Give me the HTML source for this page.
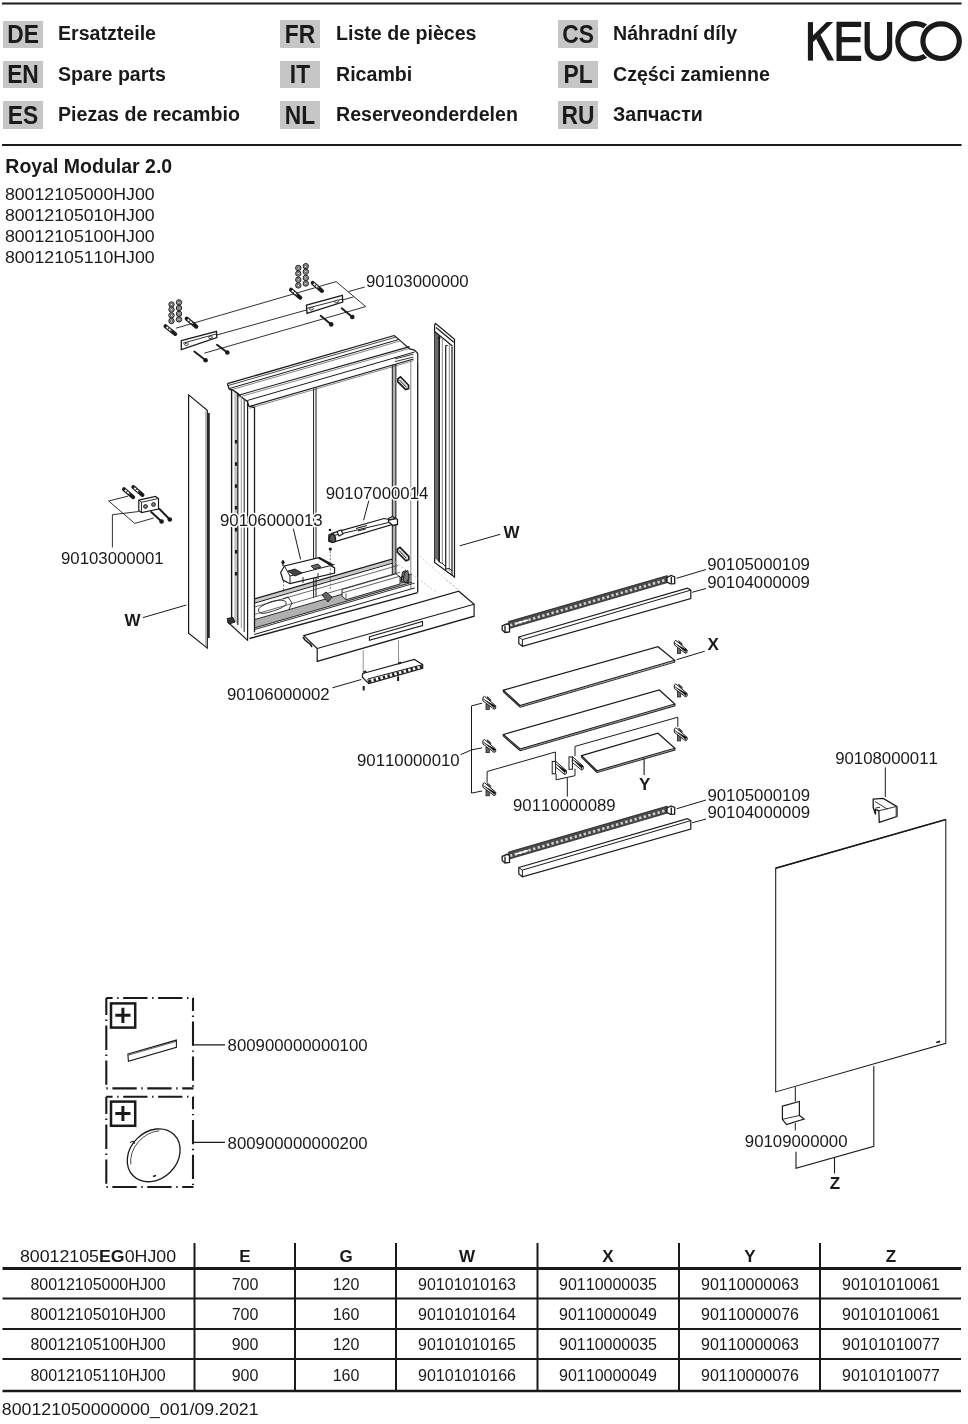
<!DOCTYPE html>
<html><head><meta charset="utf-8">
<style>
html,body{margin:0;padding:0;background:#fff;}
body{width:968px;height:1424px;overflow:hidden;position:relative;}
svg{position:absolute;left:0;top:0;will-change:transform;}
text{font-family:"Liberation Sans",sans-serif;fill:#1a1a1a;font-kerning:none;}
.b{font-weight:bold;}
</style></head><body>
<svg width="968" height="1424" viewBox="0 0 968 1424">
<!-- header -->
<g id="header">
<line x1="2" y1="3.5" x2="961.5" y2="3.5" stroke="#1a1a1a" stroke-width="2"/>
<line x1="2" y1="145" x2="961.5" y2="145" stroke="#1a1a1a" stroke-width="2"/>
<g fill="#c6c6c6">
<rect x="3" y="21" width="40" height="27"/><rect x="3" y="61" width="40" height="27"/><rect x="3" y="101" width="40" height="28"/>
<rect x="280" y="20" width="40" height="28"/><rect x="280" y="61" width="40" height="27"/><rect x="280" y="101" width="40" height="28"/>
<rect x="558" y="20" width="40" height="28"/><rect x="558" y="61" width="40" height="27"/><rect x="558" y="101" width="40" height="28"/>
</g>
<g class="b" font-size="22.8" text-anchor="middle">
<text transform="translate(23 43) scale(1 1.12)">DE</text><text transform="translate(23 83.2) scale(1 1.12)">EN</text><text transform="translate(23 123.6) scale(1 1.12)">ES</text><text transform="translate(300 42.6) scale(1 1.12)">FR</text><text transform="translate(300 83.2) scale(1 1.12)">IT</text><text transform="translate(300 123.6) scale(1 1.12)">NL</text><text transform="translate(578 42.6) scale(1 1.12)">CS</text><text transform="translate(578 83.2) scale(1 1.12)">PL</text><text transform="translate(578 123.6) scale(1 1.12)">RU</text>
</g>
<g class="b" font-size="19.6">
<text x="58" y="40">Ersatzteile</text><text x="58" y="80.5">Spare parts</text><text x="58" y="121">Piezas de recambio</text>
<text x="336" y="40">Liste de pièces</text><text x="336" y="80.5">Ricambi</text><text x="336" y="121">Reserveonderdelen</text>
<text x="613" y="40">Náhradní díly</text><text x="613" y="80.5">Części zamienne</text><text x="613" y="121">Запчасти</text>
</g>
</g>
<!-- title -->
<text class="b" x="5.3" y="172.7" font-size="19.5">Royal Modular 2.0</text>
<g font-size="17">
<text x="4.9" y="199.5" textLength="149.8" lengthAdjust="spacingAndGlyphs">80012105000HJ00</text>
<text x="4.9" y="220.5" textLength="149.8" lengthAdjust="spacingAndGlyphs">80012105010HJ00</text>
<text x="4.9" y="241.5" textLength="149.8" lengthAdjust="spacingAndGlyphs">80012105100HJ00</text>
<text x="4.9" y="262.5" textLength="149.8" lengthAdjust="spacingAndGlyphs">80012105110HJ00</text>
</g>
<!-- table -->
<g id="table" stroke="#1a1a1a" fill="none">
<line x1="2.5" y1="1268.5" x2="961" y2="1268.5" stroke-width="3"/>
<line x1="2.5" y1="1298.5" x2="961" y2="1298.5" stroke-width="2"/>
<line x1="2.5" y1="1329" x2="961" y2="1329" stroke-width="2"/>
<line x1="2.5" y1="1359" x2="961" y2="1359" stroke-width="2"/>
<line x1="2.5" y1="1391" x2="961" y2="1391" stroke-width="2.5"/>
<g stroke-width="2">
<line x1="194.5" y1="1243" x2="194.5" y2="1390"/>
<line x1="295" y1="1243" x2="295" y2="1390"/>
<line x1="396" y1="1243" x2="396" y2="1390"/>
<line x1="537.5" y1="1243" x2="537.5" y2="1390"/>
<line x1="679" y1="1243" x2="679" y2="1390"/>
<line x1="820" y1="1243" x2="820" y2="1390"/>
</g>
</g>
<g font-size="17" text-anchor="middle">
<text x="98" y="1262" textLength="156.2" lengthAdjust="spacingAndGlyphs">80012105<tspan class="b">EG</tspan>0HJ00</text>
<g class="b"><text x="245" y="1262">E</text><text x="346" y="1262">G</text><text x="467" y="1262">W</text><text x="608" y="1262">X</text><text x="750" y="1262">Y</text><text x="891" y="1262">Z</text></g>
</g>
<g font-size="16" text-anchor="middle">
<text x="98" y="1289.7">80012105000HJ00</text><text x="245" y="1289.7">700</text><text x="346" y="1289.7">120</text><text x="467" y="1289.7">90101010163</text><text x="608" y="1289.7">90110000035</text><text x="750" y="1289.7">90110000063</text><text x="891" y="1289.7">90101010061</text>
<text x="98" y="1319.8">80012105010HJ00</text><text x="245" y="1319.8">700</text><text x="346" y="1319.8">160</text><text x="467" y="1319.8">90101010164</text><text x="608" y="1319.8">90110000049</text><text x="750" y="1319.8">90110000076</text><text x="891" y="1319.8">90101010061</text>
<text x="98" y="1349.9">80012105100HJ00</text><text x="245" y="1349.9">900</text><text x="346" y="1349.9">120</text><text x="467" y="1349.9">90101010165</text><text x="608" y="1349.9">90110000035</text><text x="750" y="1349.9">90110000063</text><text x="891" y="1349.9">90101010077</text>
<text x="98" y="1380.5">80012105110HJ00</text><text x="245" y="1380.5">900</text><text x="346" y="1380.5">160</text><text x="467" y="1380.5">90101010166</text><text x="608" y="1380.5">90110000049</text><text x="750" y="1380.5">90110000076</text><text x="891" y="1380.5">90101010077</text>
</g>
<text x="1.8" y="1414.5" font-size="17" textLength="256.8" lengthAdjust="spacingAndGlyphs">800121050000000_001/09.2021</text>
<!-- DRAWING -->
<g id="logo" fill="none" stroke="#1a1a1a" stroke-width="5.2">
<path d="M839.1 22.1V60.6M836.5 24.4H861.2M839.1 39.7H860.4M836.5 58.4H861.2"/>
<path d="M867.2 22.1V47.2A11.2 11.2 0 0 0 889.6 47.2V22.1"/>
<path d="M929 30.0A17.6 17.6 0 1 0 929 52.4"/>
<ellipse cx="941.1" cy="41.2" rx="18.2" ry="17.3" stroke="#fff" stroke-width="8"/>
<ellipse cx="941.1" cy="41.2" rx="18.2" ry="17.3"/>
</g>
<g fill="#1a1a1a">
<rect x="807.9" y="22.1" width="5.1" height="38.5"/>
<polygon points="826.6,22.1 833.2,22.1 812.9,42.2 812.9,35.6"/>
<polygon points="816.0,38.8 820.4,34.6 834.0,60.6 827.6,60.6"/>
</g>

<g id="access" fill="none" stroke="#1a1a1a">
<g stroke-width="2.1" stroke-dasharray="24.3 4.6 1.4 4.6">
<path d="M106.3 998H193.5" stroke-dashoffset="18"/>
<path d="M106.3 1088.4H193.5" stroke-dashoffset="28.8"/>
<path d="M106.3 998V1088.4" stroke-dashoffset="7.3"/>
<path d="M193 998V1088.4" stroke-dashoffset="11.4"/>
<path d="M106.3 1096.7H193.5" stroke-dashoffset="18"/>
<path d="M106.3 1187H193.5" stroke-dashoffset="28.8"/>
<path d="M106.3 1096.7V1187" stroke-dashoffset="7"/>
<path d="M193 1096.7V1187" stroke-dashoffset="11.7"/>
</g>
<rect x="111" y="1003.4" width="24.2" height="24.2" stroke-width="2.5"/>
<rect x="111" y="1101.6" width="24.2" height="24.2" stroke-width="2.5"/>
<path d="M115.3 1015.2H130.5M122.9 1007.8V1022.9M115.3 1113.4H130.5M122.9 1105.9V1121" stroke-width="3"/>
<polygon points="127.9,1054 176.4,1040.1 176.4,1047.3 128.4,1061.3" stroke-width="1.1"/>
<path d="M128.2 1055.2L176.4 1041.3" stroke-width="0.7"/>
<path d="M193 1044.9H225M193 1142.3H225" stroke-width="1.2"/>
<ellipse cx="153.7" cy="1155.3" rx="29" ry="23.6" transform="rotate(-45 153.7 1155.3)" stroke-width="1.3"/>
<path d="M129.5 1163A28 23 -45 0 1 158 1129.5" stroke-width="0.8" transform="translate(1.3 1.3)"/>
<path d="M130 1142.5L133.5 1141L134.5 1144" stroke-width="1"/>
<path d="M153 1176.5L156 1175.5" stroke-width="1.4"/>
</g>

<g id="mirror" fill="none" stroke="#1a1a1a">
<path d="M775.7 1091.9V868.2L945.8 819.6V1043.3Z" stroke-width="1.05"/>
<path d="M775.7 868.2L945.8 819.6" stroke-width="1.6"/>
<path d="M936.3 1042.5L940.2 1041.3" stroke-width="1.8"/>
<!-- top clip 90108000011 -->
<path d="M885.3 767.4V797" stroke-width="1"/>
<path d="M873.2 799.2L883.2 798.4L896.7 806.4V816.5L879.3 822.3L878.8 810.8L875.5 809.5V814.5L873.2 807.5Z" stroke-width="1.3" fill="#fff"/>
<path d="M896.7 806.4V816.5" stroke-width="2.2" stroke="#555"/>
<path d="M875 801.5L887.5 809.2M878.8 810.8L896.7 806.4M875.5 808L880 807.3" stroke-width="0.9"/>
<!-- bottom clip 90109000000 -->
<path d="M795.3 1087V1101.5M795.3 1123V1130.5" stroke-width="1"/>
<path d="M782.4 1106.2L799.4 1101.5V1115.5L804.1 1119.1L786.5 1124.5L782.4 1119.3Z" stroke-width="1.2"/>
<path d="M782.4 1119.3L799.4 1115.5" stroke-width="0.9"/>
<!-- Z bracket -->
<path d="M796 1151.7V1168.2L873.8 1146.3V1066M834.5 1157.6V1173.5" stroke-width="1.1"/>
</g>

<defs>
<g id="clip">
<rect x="3.1" y="7.8" width="3.3" height="5.4" fill="#666" stroke="#222" stroke-width="0.8"/>
<path d="M4.4 0.4L7.8 3.2V5L4.8 2.6Z" fill="#555" stroke="#222" stroke-width="0.7"/>
<path d="M0 1.2L1.6 0.1L12.8 9.6V12.2L11.2 13L0 4.6Z" fill="#fff" stroke="#1a1a1a" stroke-width="1"/>
<path d="M0.3 2.6L11.2 11.4L12.8 9.8M11.2 11.4V13" stroke="#333" stroke-width="0.8"/>
</g>
<g id="clipL">
<rect x="-0.4" y="0.4" width="3.4" height="12.4" fill="#fff" stroke="#1a1a1a" stroke-width="1"/>
<path d="M3 0.2L13.8 9.6V12.6L12 13.4L3 6Z" fill="#fff" stroke="#1a1a1a" stroke-width="1"/>
<path d="M3 2.6L12 11.4L13.8 9.8M12 11.4V13.4" stroke="#333" stroke-width="0.8"/>
</g>
</defs>
<g id="shelves" fill="none" stroke="#1a1a1a">
<!-- shelf X -->
<path d="M503.4 690.2L658 646.7L674.6 660.3L520 705.5Z" stroke-width="1.2"/>
<path d="M520 707.2L674.6 662.2V660.3M503.4 690.2L503.4 691.8L520 707.2" stroke-width="1.1"/>
<path d="M521 706.4L673.8 661.5" stroke="#777" stroke-width="1.4" stroke-dasharray="1 1"/>
<!-- shelf 2 -->
<path d="M503.4 734.5L659.4 690L674.8 704L520 749Z" stroke-width="1.2"/>
<path d="M520 750.7L674.8 705.8V704M503.4 734.5V736.1L520 750.7" stroke-width="1.1"/>
<path d="M521 749.9L674 705.1" stroke="#777" stroke-width="1.4" stroke-dasharray="1 1"/>
<!-- shelf Y -->
<path d="M581.6 755.7L658 733.2L674.8 748.3L597 770.8Z" stroke-width="1.2"/>
<path d="M597 772.5L674.8 750V748.3M581.6 755.7V757.3L597 772.5" stroke-width="1.1"/>
<path d="M598 771.7L674 749.5" stroke="#777" stroke-width="1.4" stroke-dasharray="1 1"/>
<!-- brackets & leaders -->
<path d="M482.2 703.1L471.5 705.9V793.1L482.2 791M471.5 749.9L482.2 747.8M460.6 754.7L471.5 749.9" stroke-width="1"/>
<path d="M487.1 782.6V771.5L555.4 752V761" stroke-width="1"/>
<path d="M575 756.1V746.4L677.8 717.2V726.9" stroke-width="1"/>
<path d="M556.1 774.3V779.8L575 775.7V768.7M567.3 777.7V796.6" stroke-width="1"/>
<path d="M644.1 758.3V775" stroke-width="1.1"/>
<path d="M676.6 659.7L704.8 651.2" stroke-width="1"/>
</g>
<use href="#clip" x="674.3" y="640.3"/>
<use href="#clip" x="674.3" y="683.8"/>
<use href="#clip" x="674.3" y="727.7"/>
<use href="#clip" x="482.9" y="696.2"/>
<use href="#clip" x="482.9" y="739.4"/>
<use href="#clip" x="482.9" y="782.6"/>
<use href="#clipL" x="552.6" y="761"/>
<use href="#clipL" x="569.4" y="756.5"/>

<defs>
<g id="ledset">
<!-- LED strip -->
<polygon points="508.4,621.6 667.3,575.6 667.3,582.6 508.4,628.8" fill="#4a4a4a" stroke="#222" stroke-width="0.8"/>
<path d="M510 625.3L666 579.9" stroke="#d0d0d0" stroke-width="2.6" stroke-dasharray="2.4 2.4"/>
<path d="M516 623.4L528 619.9" stroke="#fff" stroke-width="1.6"/>
<polygon points="502.2,625.8 507,623.8 509.5,625 509.5,632 505,632.5 502.2,630" fill="#fff" stroke="#1a1a1a" stroke-width="1.3"/>
<path d="M505 626V632" stroke="#1a1a1a" stroke-width="1.3"/>
<polygon points="667,577.5 671,575.5 674.7,577 674.7,583.6 670.5,583.8 667,582" fill="#fff" stroke="#1a1a1a" stroke-width="1.3"/>
<path d="M671.3 577V583.6" stroke="#1a1a1a" stroke-width="1.3"/>
<!-- profile -->
<path d="M518.8 637L687.4 588.2L690.8 590.1V598.5L522.4 646.3L518.8 643.5Z" fill="#fff" stroke="#1a1a1a" stroke-width="1.2"/>
<path d="M518.8 637L522.4 639.6L690.8 590.1M522.4 639.6V646.3" fill="none" stroke="#1a1a1a" stroke-width="1"/>
</g>
</defs>
<use href="#ledset"/>
<use href="#ledset" y="230.5"/>
<g fill="none" stroke="#1a1a1a" stroke-width="1">
<path d="M676.6 578.3L706 569.5M692.1 592.3L706 588.5"/>
<path d="M676.6 808.8L706 800M692.1 822.8L706 819"/>
</g>

<g id="cabinet" fill="none" stroke-linecap="butt">
<polygon points="234.3,390.0 237.0,393.0 237.0,624.0 234.3,621.0" fill="#c4c4c4" stroke="none" stroke-width="0"/>
<polygon points="392.3,365.0 395.9,364.0 395.9,576.4 392.3,577.0" fill="#b0b0b0" stroke="none" stroke-width="0"/>
<polygon points="255.0,619.6 412.0,574.1 412.0,582.4 255.0,627.9" fill="#b0b0b0" stroke="none" stroke-width="0"/>
<polygon points="255.0,599.5 392.0,559.8 392.0,562.8 255.0,602.5" fill="#c8c8c8" stroke="none" stroke-width="0"/>
<path d="M227.4 383.7L394.2 335.5" stroke="#1a1a1a" stroke-width="1.3" />
<path d="M227.9 385.6L395.5 337.2" stroke="#1a1a1a" stroke-width="0.8" />
<path d="M229.0 388.6L399.1 339.4" stroke="#1a1a1a" stroke-width="1.0" />
<path d="M229.5 390.3L399.6 341.1" stroke="#555" stroke-width="0.7" />
<path d="M237.4 395.5L409.7 346.6" stroke="#1a1a1a" stroke-width="1.1" />
<path d="M238.0 397.3L410.0 348.3" stroke="#555" stroke-width="0.7" />
<path d="M247.3 400.5L414.6 352.0" stroke="#1a1a1a" stroke-width="1.0" />
<path d="M249.0 406.6L413.5 359.0" stroke="#1a1a1a" stroke-width="1.2" />
<path d="M249.5 408.3L413.5 360.6" stroke="#555" stroke-width="0.7" />
<path d="M394.2 335.5L399.1 339.6L409.7 348.9L414.3 350.1L417.7 353.2V361.6" stroke="#1a1a1a" stroke-width="1.2" fill="none" />
<path d="M227.4 383.6L229.1 389L232.4 389.8L237.4 393.1L240.7 396.4L247.3 401.4L248.9 406.3L254.3 407.3" stroke="#1a1a1a" stroke-width="1.3" fill="none" />
<path d="M395.1 358.8L413.4 354.2M395.1 361.6L413.4 357" stroke="#1a1a1a" stroke-width="0.9" fill="none" />
<path d="M231.6 389V621.5" stroke="#1a1a1a" stroke-width="1.4" fill="none" />
<path d="M237.8 393V625" stroke="#1a1a1a" stroke-width="1.2" fill="none" />
<path d="M241.3 396V628" stroke="#999" stroke-width="1.0" fill="none" />
<path d="M244.2 399V632" stroke="#333" stroke-width="1.1" fill="none" />
<path d="M247.6 401V640.6" stroke="#1a1a1a" stroke-width="1.2" fill="none" />
<path d="M254.5 407V632.3" stroke="#1a1a1a" stroke-width="1.3" fill="none" />
<path d="M236 440V443.5" stroke="#1a1a1a" stroke-width="2.2" fill="none" />
<path d="M236 462.3V465.8" stroke="#1a1a1a" stroke-width="2.2" fill="none" />
<path d="M236 484.3V487.8" stroke="#1a1a1a" stroke-width="2.2" fill="none" />
<path d="M236 506V509.5" stroke="#1a1a1a" stroke-width="2.2" fill="none" />
<path d="M236 528V531.5" stroke="#1a1a1a" stroke-width="2.2" fill="none" />
<path d="M236 550V553.5" stroke="#1a1a1a" stroke-width="2.2" fill="none" />
<path d="M236 572V575.5" stroke="#1a1a1a" stroke-width="2.2" fill="none" />
<path d="M227.2 621.5L247.9 640.6" stroke="#1a1a1a" stroke-width="1.2" fill="none" />
<path d="M227 618.5L233 617.5L235 622L229 624Z" stroke="#1a1a1a" stroke-width="1.0" fill="#333" />
<path d="M313.6 388.8V598" stroke="#1a1a1a" stroke-width="1.0" fill="none" />
<path d="M316 388.1V597" stroke="#1a1a1a" stroke-width="1.0" fill="none" />
<path d="M392.3 365V577M395.9 364V576.4" stroke="#1a1a1a" stroke-width="1.0" fill="none" />
<path d="M410.8 360V589" stroke="#777" stroke-width="0.9" fill="none" />
<path d="M417.7 361.6V592.3" stroke="#1a1a1a" stroke-width="1.3" fill="none" />
<path d="M397.8 378.8L400.5 376.8L408.6 385.2V388.6L405.6 389.6L397.8 381.8Z" stroke="#1a1a1a" stroke-width="1.6" fill="#e0e0e0" />
<path d="M399.6 380.2L406.4 387.2M399 382.5L404.5 388.4" stroke="#1a1a1a" stroke-width="0.9" fill="none" />
<path d="M397.3 549.2L400 547.4L408.8 556.4V559.8L405.9 560.8L397.3 552.2Z" stroke="#1a1a1a" stroke-width="1.6" fill="#e0e0e0" />
<path d="M399.2 550.6L406.4 558.2M398.6 553L404.6 559.6" stroke="#1a1a1a" stroke-width="0.9" fill="none" />
<path d="M401 582L402.5 572L406 570.5L408.8 575V582.6Z" stroke="#1a1a1a" stroke-width="1.0" fill="#777" />
<path d="M254.6 598.9L392.0 559.1" stroke="#1a1a1a" stroke-width="1.1" />
<path d="M254.6 603.1L392.0 563.3" stroke="#1a1a1a" stroke-width="1.0" />
<path d="M254.6 607.0L398.0 565.4" stroke="#444" stroke-width="0.8" />
<path d="M254.6 614.4L400.0 572.2" stroke="#444" stroke-width="0.8" />
<path d="M254.6 619.6L412.0 574.0" stroke="#1a1a1a" stroke-width="0.9" />
<path d="M254.6 627.9L412.0 582.3" stroke="#1a1a1a" stroke-width="0.9" />
<path d="M254.6 629.5L414.7 583.1" stroke="#1a1a1a" stroke-width="0.9" />
<path d="M254.1 634.5L414.7 587.9" stroke="#1a1a1a" stroke-width="1.0" />
<path d="M249.5 638.5L417.7 592.6" stroke="#1a1a1a" stroke-width="1.3" />
<path d="M342 589.5L396 573.8L400 577V584L346 599.7L342 596Z" stroke="#1a1a1a" stroke-width="0.9" fill="#fff" />
<path d="M342 593L400 576.2M346 599.7V593.2" stroke="#1a1a1a" stroke-width="0.7" fill="none" />
<path d="M262 606C270 601 282 598 286 602C288 606 278 610 266 613C258 615 256 609 262 606Z" stroke="#1a1a1a" stroke-width="0.9" fill="none" />
<path d="M283 599L288 597L292 603L289 609" stroke="#1a1a1a" stroke-width="0.9" fill="none" />
<path d="M322 595L326 592L332 597L328 602Z" stroke="#1a1a1a" stroke-width="0.9" fill="#666" />
<path d="M403 580L405 572L408 570.5L409 578L406 583Z" stroke="#1a1a1a" stroke-width="0.9" fill="#777" />
<path d="M280.7 572.5L284.4 566L318.8 557.7L334.6 567.9V573L290 583.7L283 580Z" stroke="#1a1a1a" stroke-width="1.2" fill="#fff" />
<path d="M284.4 566L290 576L334.6 564.5M290 576V583.7" stroke="#1a1a1a" stroke-width="1.0" fill="none" />
<path d="M318.8 557.7L332.7 565.1" stroke="#1a1a1a" stroke-width="2.2" fill="none" />
<path d="M288 571L295 569L302 573L295 576Z" stroke="#1a1a1a" stroke-width="0.9" fill="#444" />
<path d="M311 566L318 564L321 567L314 569Z" stroke="#1a1a1a" stroke-width="0.9" fill="#666" />
<path d="M303 577V583M318 573V579" stroke="#1a1a1a" stroke-width="0.9" fill="none" />
<path d="M283 560V566" stroke="#1a1a1a" stroke-width="1.3" fill="none" />
<circle cx="283" cy="562.3" r="1.6" fill="#1a1a1a"/>
<path d="M283.5 581V592M314.1 577V585M330.4 573V590" stroke="#555" stroke-width="0.8" fill="none" stroke-dasharray="2 1.5"/>
<path d="M293.3 528.6L300.6 559.5" stroke="#1a1a1a" stroke-width="1.0" fill="none" />
<path d="M328.8 535.1L332.4 533.1L384 518.5L396.4 520.7L397 523.2L332.4 542.4L328.8 541.3Z" stroke="#1a1a1a" stroke-width="1.2" fill="#fff" />
<path d="M333.4 535.6L396.4 520.7M333.4 535.6V542.4" stroke="#1a1a1a" stroke-width="1.0" fill="none" />
<path d="M388.5 518.5L392.5 516.5L397.5 519.5V524.5L393 525.5L388.5 522Z" stroke="#1a1a1a" stroke-width="1.3" fill="#fff" />
<path d="M389 520L396 518.5" stroke="#1a1a1a" stroke-width="1.6" fill="none" />
<path d="M330 535.5L333.5 533.8L335.5 537.5V541.5L332 542.5L329 540Z" stroke="#1a1a1a" stroke-width="1.3" fill="#555" />
<path d="M337 531.5L341 530L343 534L339 536Z" stroke="#1a1a1a" stroke-width="1.1" fill="#fff" />
<path d="M356 528.5L367 525.5" stroke="#1a1a1a" stroke-width="1.1" fill="none" />
<path d="M358 531L366 528.8" stroke="#1a1a1a" stroke-width="1.0" fill="none" />
<circle cx="330" cy="530" r="1.3" fill="#1a1a1a"/><circle cx="330.3" cy="549.1" r="1.6" fill="#1a1a1a"/>
<path d="M330.3 551V582" stroke="#555" stroke-width="0.8" fill="none" stroke-dasharray="2 1.5"/>
<path d="M363.6 520.3L368.8 500.7" stroke="#1a1a1a" stroke-width="1.0" fill="none" />
</g>
<g id="cover" fill="none" stroke="#1a1a1a">
<path d="M303.8 635.6L458.8 591.2L474.1 604.2V616.2L317.2 661.4V648.5Z" fill="#fff" stroke-width="1.2"/>
<path d="M317.2 648.5L474.1 604.2" stroke-width="1.1"/>
<path d="M369.4 636.7L422.5 621.4V625.5L369.4 640.3Z" stroke-width="1.1"/>
<path d="M303 637L305 640L310.5 644.4L312 647" stroke-width="1.6"/>
<path d="M363.2 650V673M398.5 640V663" stroke-width="0.7" stroke="#666"/>
<path d="M418 589L458.8 591.2" stroke="#ccc" stroke-width="0.8" stroke-dasharray="3 2" opacity="0"/>
<path d="M446 580L458 590M395 562L436 592" stroke="#bbb" stroke-width="0.8" stroke-dasharray="2 2"/>
</g>
<g id="switch" fill="none" stroke="#1a1a1a">
<path d="M362.8 673.5L414.3 659.5L422.7 664.6V668.3L368.8 683.7L362.3 677.2Z" fill="#fff" stroke-width="1.2"/>
<path d="M367.9 679L422.7 664.6M367.9 679L368.8 683.7" stroke-width="1"/>
<path d="M369 681.5L422 666.5" stroke="#222" stroke-width="3.2" stroke-dasharray="2.4 2.4"/>
<path d="M363.5 672.5L366 671M398.5 663.5L401 662.5" stroke-width="2"/>
<path d="M363.7 686V690.5M398.1 676.5V681" stroke-width="2"/>
<path d="M332.4 687.8L361.3 679.5" stroke-width="1"/>
</g>
<g id="leftpanel" fill="none" stroke="#1a1a1a">
<path d="M188.6 394.9L207.3 410.2V648.1L188.6 633.2Z" fill="#fff" stroke-width="1.2"/>
<path d="M205.8 411V646" stroke="#999" stroke-width="1"/>
<rect x="207.3" y="413" width="2.5" height="225" fill="#2a2a2a" stroke="none"/>
<path d="M143 617.6L186.4 605" stroke-width="1"/>
</g>
<g id="rightpanel" fill="none" stroke="#1a1a1a">
<path d="M435.6 323.5L454.5 339.3V577L434.6 562.5V325Z" fill="#fff" stroke-width="1.2"/>
<polygon points="434.6,331.5 439.2,335.5 439.2,562 434.6,558" fill="#6a6a6a" stroke="none"/>
<path d="M434.6 331.5L452.4 346M436 327.5L453.8 342.3" stroke-width="1.2"/>
<path d="M439.2 336V562" stroke-width="1.6"/>
<path d="M442.3 338V564M449.3 344V571" stroke="#888" stroke-width="1"/>
<path d="M445.7 345.5V569.8M452 346.5V575" stroke-width="1.2"/>
<path d="M437.4 338.2H440.5M445.7 345.5H447.7M439.2 562L442.3 563.5L445.7 566.5M445.7 569L449.3 568.5L452 571" stroke-width="1"/>
<path d="M459.8 545.8L500.2 534.3" stroke-width="1"/>
<path d="M420 556.5L458.6 590" stroke="#bbb" stroke-width="0.8" stroke-dasharray="2 2"/>
</g>

<g id="screws" fill="none">
<path d="M175.9 328.2L336.1 281.6L365.7 306.6L204.3 353.2M216.8 335L353.6 296.9M348.6 291.5L364.8 287" stroke="#1a1a1a" stroke-width="0.9"/>
<circle cx="171.5" cy="304.5" r="2.7" fill="#aaa" stroke="#1a1a1a" stroke-width="1"/><circle cx="171.5" cy="304.5" r="1.1" fill="#fff" stroke="#1a1a1a" stroke-width="0.6"/>
<circle cx="171.5" cy="309.6" r="2.7" fill="#aaa" stroke="#1a1a1a" stroke-width="1"/><circle cx="171.5" cy="309.6" r="1.1" fill="#fff" stroke="#1a1a1a" stroke-width="0.6"/>
<circle cx="171.5" cy="315.3" r="2.7" fill="#aaa" stroke="#1a1a1a" stroke-width="1"/><circle cx="171.5" cy="315.3" r="1.1" fill="#fff" stroke="#1a1a1a" stroke-width="0.6"/>
<circle cx="171.5" cy="321" r="2.7" fill="#aaa" stroke="#1a1a1a" stroke-width="1"/><circle cx="171.5" cy="321" r="1.1" fill="#fff" stroke="#1a1a1a" stroke-width="0.6"/>
<circle cx="179" cy="302.4" r="2.7" fill="#aaa" stroke="#1a1a1a" stroke-width="1"/><circle cx="179" cy="302.4" r="1.1" fill="#fff" stroke="#1a1a1a" stroke-width="0.6"/>
<circle cx="179" cy="308" r="2.7" fill="#aaa" stroke="#1a1a1a" stroke-width="1"/><circle cx="179" cy="308" r="1.1" fill="#fff" stroke="#1a1a1a" stroke-width="0.6"/>
<circle cx="179" cy="313.8" r="2.7" fill="#aaa" stroke="#1a1a1a" stroke-width="1"/><circle cx="179" cy="313.8" r="1.1" fill="#fff" stroke="#1a1a1a" stroke-width="0.6"/>
<circle cx="179" cy="319.4" r="2.7" fill="#aaa" stroke="#1a1a1a" stroke-width="1"/><circle cx="179" cy="319.4" r="1.1" fill="#fff" stroke="#1a1a1a" stroke-width="0.6"/>
<path d="M165.5 326.2L175.2 334" stroke="#1a1a1a" stroke-width="4" stroke-linecap="round"/>
<path d="M166.5 327.0L171.5 331.0" stroke="#fff" stroke-width="1.7" stroke-dasharray="2.2 0.8"/>
<path d="M186.7 318.6L196.3 326.6" stroke="#1a1a1a" stroke-width="4" stroke-linecap="round"/>
<path d="M187.7 319.4L192.7 323.6" stroke="#fff" stroke-width="1.7" stroke-dasharray="2.2 0.8"/>
<polygon points="181.3,340.6 216.5,331.3 216.8,337.5 181.3,349.7" fill="#fff" stroke="#1a1a1a" stroke-width="1.3"/>
<path d="M182.9 343.2L216.5 333.9" stroke="#1a1a1a" stroke-width="0.9"/>
<ellipse cx="186.5" cy="344.3" rx="2" ry="1.2" transform="rotate(-16 186.5 344.3)" fill="#fff" stroke="#1a1a1a" stroke-width="0.8"/>
<ellipse cx="210.5" cy="337.3" rx="2" ry="1.2" transform="rotate(-16 210.5 337.3)" fill="#fff" stroke="#1a1a1a" stroke-width="0.8"/>
<path d="M194.3 351.5L205.6 360.2" stroke="#1a1a1a" stroke-width="1.9" stroke-linecap="round"/>
<circle cx="205.6" cy="360.2" r="2.3" fill="#1a1a1a"/>
<path d="M217 344.8L227.3 352.5" stroke="#1a1a1a" stroke-width="1.9" stroke-linecap="round"/>
<circle cx="227.3" cy="352.5" r="2.3" fill="#1a1a1a"/>
<circle cx="298.3" cy="268" r="2.7" fill="#aaa" stroke="#1a1a1a" stroke-width="1"/><circle cx="298.3" cy="268" r="1.1" fill="#fff" stroke="#1a1a1a" stroke-width="0.6"/>
<circle cx="298.3" cy="273.6" r="2.7" fill="#aaa" stroke="#1a1a1a" stroke-width="1"/><circle cx="298.3" cy="273.6" r="1.1" fill="#fff" stroke="#1a1a1a" stroke-width="0.6"/>
<circle cx="298.3" cy="279.8" r="2.7" fill="#aaa" stroke="#1a1a1a" stroke-width="1"/><circle cx="298.3" cy="279.8" r="1.1" fill="#fff" stroke="#1a1a1a" stroke-width="0.6"/>
<circle cx="298.3" cy="285.4" r="2.7" fill="#aaa" stroke="#1a1a1a" stroke-width="1"/><circle cx="298.3" cy="285.4" r="1.1" fill="#fff" stroke="#1a1a1a" stroke-width="0.6"/>
<circle cx="305.8" cy="266.2" r="2.7" fill="#aaa" stroke="#1a1a1a" stroke-width="1"/><circle cx="305.8" cy="266.2" r="1.1" fill="#fff" stroke="#1a1a1a" stroke-width="0.6"/>
<circle cx="305.8" cy="271.7" r="2.7" fill="#aaa" stroke="#1a1a1a" stroke-width="1"/><circle cx="305.8" cy="271.7" r="1.1" fill="#fff" stroke="#1a1a1a" stroke-width="0.6"/>
<circle cx="305.8" cy="277.9" r="2.7" fill="#aaa" stroke="#1a1a1a" stroke-width="1"/><circle cx="305.8" cy="277.9" r="1.1" fill="#fff" stroke="#1a1a1a" stroke-width="0.6"/>
<circle cx="305.8" cy="283.5" r="2.7" fill="#aaa" stroke="#1a1a1a" stroke-width="1"/><circle cx="305.8" cy="283.5" r="1.1" fill="#fff" stroke="#1a1a1a" stroke-width="0.6"/>
<path d="M291 289.7L300.3 297.8" stroke="#1a1a1a" stroke-width="4" stroke-linecap="round"/>
<path d="M291.9 290.5L296.8 294.7" stroke="#fff" stroke-width="1.7" stroke-dasharray="2.2 0.8"/>
<path d="M312.7 282.9L322 291" stroke="#1a1a1a" stroke-width="4" stroke-linecap="round"/>
<path d="M313.6 283.7L318.5 287.9" stroke="#fff" stroke-width="1.7" stroke-dasharray="2.2 0.8"/>
<polygon points="306.4,305.2 342.4,295.3 342.7,302.1 307,313.3" fill="#fff" stroke="#1a1a1a" stroke-width="1.3"/>
<path d="M307 308.3L342.5 299" stroke="#1a1a1a" stroke-width="0.9"/>
<ellipse cx="311.5" cy="308.8" rx="2" ry="1.2" transform="rotate(-16 311.5 308.8)" fill="#fff" stroke="#1a1a1a" stroke-width="0.8"/>
<ellipse cx="336.5" cy="301.5" rx="2" ry="1.2" transform="rotate(-16 336.5 301.5)" fill="#fff" stroke="#1a1a1a" stroke-width="0.8"/>
<path d="M320.7 315.7L331.2 324.4" stroke="#1a1a1a" stroke-width="1.9" stroke-linecap="round"/>
<circle cx="331.2" cy="324.4" r="2.3" fill="#1a1a1a"/>
<path d="M341.7 308.3L352.3 317" stroke="#1a1a1a" stroke-width="1.9" stroke-linecap="round"/>
<circle cx="352.3" cy="317" r="2.3" fill="#1a1a1a"/>
<path d="M108.7 501L128.1 496.1M108.7 501L134.7 523.4L153.7 518M112.4 547.4V514.7L138.8 511.5" stroke="#1a1a1a" stroke-width="0.9"/>
<path d="M124 489.2L133.2 497.2" stroke="#1a1a1a" stroke-width="4" stroke-linecap="round"/>
<path d="M124.9 490.0L129.7 494.2" stroke="#fff" stroke-width="1.7" stroke-dasharray="2.2 0.8"/>
<path d="M133.3 487.1L142.5 495" stroke="#1a1a1a" stroke-width="4" stroke-linecap="round"/>
<path d="M134.2 487.9L139.0 492.0" stroke="#fff" stroke-width="1.7" stroke-dasharray="2.2 0.8"/>
<path d="M138.8 500.2L155.5 496.5L158.5 498.5V509L141.5 512.5L138.8 510.5Z" fill="#fff" stroke="#1a1a1a" stroke-width="1.2"/>
<path d="M141.5 502.2L158.5 498.5M141.5 502.2V512.5M138.8 500.2L141.5 502.2" stroke="#1a1a1a" stroke-width="0.9"/>
<circle cx="145.5" cy="506.5" r="2" fill="#777" stroke="#1a1a1a" stroke-width="0.8"/><circle cx="153.5" cy="504.5" r="2" fill="#777" stroke="#1a1a1a" stroke-width="0.8"/>
<path d="M151.2 512L161.6 521.5" stroke="#1a1a1a" stroke-width="1.9" stroke-linecap="round"/>
<circle cx="161.6" cy="521.5" r="2.3" fill="#1a1a1a"/>
<path d="M159.5 509L169.8 519.5" stroke="#1a1a1a" stroke-width="1.9" stroke-linecap="round"/>
<circle cx="169.8" cy="519.5" r="2.3" fill="#1a1a1a"/>
</g>
<g id="labels" font-size="16.8" stroke="#fff" stroke-width="3" paint-order="stroke" stroke-linejoin="round">
<text x="366" y="286.6">90103000000</text>
<text x="61" y="563.5">90103000001</text>
<text x="220" y="525.5">90106000013</text>
<text x="325.7" y="498.6">90107000014</text>
<text x="707.2" y="570">90105000109</text>
<text x="707.2" y="588">90104000009</text>
<text x="227" y="699.6">90106000002</text>
<text x="357" y="766.3">90110000010</text>
<text x="513" y="811.3">90110000089</text>
<text x="835.2" y="764.2">90108000011</text>
<text x="707.4" y="800.7">90105000109</text>
<text x="707.4" y="817.7">90104000009</text>
<text x="227.6" y="1050.9">800900000000100</text>
<text x="227.6" y="1148.9">800900000000200</text>
<text x="744.8" y="1146.6">90109000000</text>
</g>
<g class="b" font-size="17" stroke="#fff" stroke-width="3" paint-order="stroke" stroke-linejoin="round">
<text x="124.5" y="626">W</text>
<text x="503.5" y="537.6">W</text>
<text x="707.5" y="649.5">X</text>
<text x="639" y="790.4">Y</text>
<text x="829.8" y="1188.8">Z</text>
</g>


</svg>
</body></html>
